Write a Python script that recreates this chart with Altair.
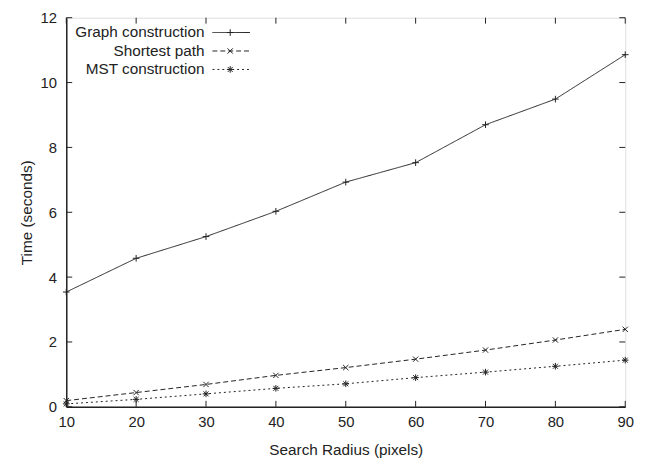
import altair as alt
import pandas as pd

radius = [10, 20, 30, 40, 50, 60, 70, 80, 90]
series_names = ["Graph construction", "Shortest path", "MST construction"]
graph_construction = [3.54, 4.58, 5.25, 6.03, 6.93, 7.53, 8.70, 9.49, 10.86]
shortest_path = [0.19, 0.44, 0.69, 0.97, 1.21, 1.47, 1.75, 2.06, 2.39]
mst_construction = [0.09, 0.23, 0.40, 0.57, 0.71, 0.90, 1.07, 1.25, 1.44]
x_ticks = [10, 20, 30, 40, 50, 60, 70, 80, 90]
y_ticks = [0, 2, 4, 6, 8, 10, 12]

W, H = 566, 394
INK = "#222222"
FONT = "Liberation Sans"
LBL = 15
TTL = 15.5

rows = []
for name, vals in zip(series_names, [graph_construction, shortest_path, mst_construction]):
    for r, v in zip(radius, vals):
        rows.append({"series": name, "radius": r, "time": v})
df = pd.DataFrame(rows)

plus = "M-1,0L1,0M0,-1L0,1"
xmark = "M-0.8,-0.8L0.8,0.8M-0.8,0.8L0.8,-0.8"
star = "M-1,0L1,0M0,-1L0,1M-0.75,-0.75L0.75,0.75M-0.75,0.75L0.75,-0.75"
shapes = [plus, xmark, star]
dashes = [[1, 0], [5, 3], [2, 3]]

xs = alt.Scale(domain=[10, 90], nice=False, zero=False)
ys = alt.Scale(domain=[0, 12], nice=False)

x_enc = alt.X("radius:Q", scale=xs, title="Search Radius (pixels)",
              axis=alt.Axis(values=x_ticks, ticks=False, grid=False, labelPadding=8,
                            titlePadding=13, domainColor=INK, domainWidth=1.5,
                            labelFontSize=LBL, titleFontSize=TTL, labelColor=INK,
                            titleColor=INK, labelFont=FONT, titleFont=FONT,
                            titleFontWeight="normal", labelFlush=False))
y_enc = alt.Y("time:Q", scale=ys, title="Time (seconds)",
              axis=alt.Axis(values=y_ticks, ticks=False, grid=False, labelPadding=10,
                            titlePadding=6, domainColor=INK, domainWidth=1.5,
                            labelFontSize=LBL, titleFontSize=TTL, labelColor=INK,
                            titleColor=INK, labelFont=FONT, titleFont=FONT,
                            titleFontWeight="normal", labelFlush=False))

dash_scale = alt.Scale(domain=series_names, range=dashes)
shape_scale = alt.Scale(domain=series_names, range=shapes)

lines = alt.Chart(df).mark_line(color=INK, strokeWidth=1).encode(
    x=x_enc, y=y_enc,
    strokeDash=alt.StrokeDash("series:N", scale=dash_scale, legend=None),
    detail="series:N",
)
points = alt.Chart(df).mark_point(color=INK, filled=False, strokeWidth=1, size=45, opacity=1).encode(
    x=alt.X("radius:Q", scale=xs), y=alt.Y("time:Q", scale=ys),
    shape=alt.Shape("series:N", scale=shape_scale, legend=None),
)

xt = pd.DataFrame({"v": x_ticks})
yt = pd.DataFrame({"v": y_ticks})
tick_bottom = alt.Chart(xt).mark_rule(color=INK, strokeWidth=1).encode(
    x=alt.X("v:Q", scale=xs), y=alt.value(H), y2=alt.value(H - 6))
tick_top = alt.Chart(xt).mark_rule(color=INK, strokeWidth=1).encode(
    x=alt.X("v:Q", scale=xs), y=alt.value(0), y2=alt.value(6))
tick_left = alt.Chart(yt).mark_rule(color=INK, strokeWidth=1).encode(
    y=alt.Y("v:Q", scale=ys), x=alt.value(0), x2=alt.value(6))
tick_right = alt.Chart(yt).mark_rule(color=INK, strokeWidth=1).encode(
    y=alt.Y("v:Q", scale=ys), x=alt.value(W), x2=alt.value(W - 6))

legend_layers = []
for i, name in enumerate(series_names):
    ly = 15 + 18.7 * i
    ld = pd.DataFrame({"series": [name]})
    legend_layers.append(alt.Chart(ld).mark_text(
        align="right", baseline="middle", fontSize=TTL, font=FONT, color=INK).encode(
        text="series:N", x=alt.value(140), y=alt.value(ly)))
    legend_layers.append(alt.Chart(ld).mark_rule(
        color=INK, strokeWidth=1, strokeDash=dashes[i]).encode(
        x=alt.value(148), x2=alt.value(186), y=alt.value(ly)))
    legend_layers.append(alt.Chart(ld).mark_point(
        color=INK, filled=False, strokeWidth=1, size=45, opacity=1, shape=shapes[i]).encode(
        x=alt.value(166), y=alt.value(ly)))

chart = alt.layer(lines, points, tick_bottom, tick_top, tick_left, tick_right, *legend_layers).properties(
    width=W, height=H,
    autosize=alt.AutoSizeParams(type="none"),
    padding={"left": 59, "top": 7, "right": 20, "bottom": 50},
).configure_view(stroke=INK, strokeWidth=1.5).configure(background="white")

chart.save("out.html", embed_options={"renderer": "svg", "actions": False})
